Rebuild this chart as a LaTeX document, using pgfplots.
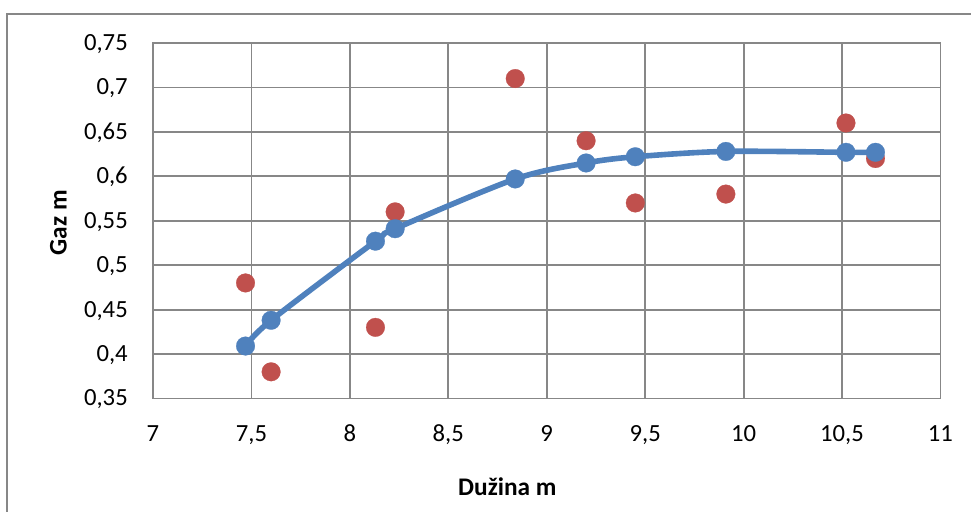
\documentclass[border=0pt]{standalone}
\usepackage{pgfplots}
\pgfplotsset{compat=1.18}
\usepackage{fontspec}
\setmainfont{Carlito}
\definecolor{exred}{HTML}{C0504D}
\definecolor{exblue}{HTML}{4F81BD}
\definecolor{exgrid}{HTML}{878787}

\begin{document}
\begin{tikzpicture}
  \useasboundingbox (0,0) rectangle (728.25pt,383.25pt);
  \draw[exgrid, line width=1.2pt] (5.25pt,-5pt) -- (5.25pt,372.75pt) -- (740pt,372.75pt);
  \begin{axis}[
      at={(114.75pt,84.4pt)}, anchor=south west,
      scale only axis,
      width=590.6pt, height=266.6pt,
      xmin=7, xmax=11,
      ymin=0.35, ymax=0.75,
      xtick={7,7.5,8,8.5,9,9.5,10,10.5,11},
      ytick={0.35,0.4,0.45,0.5,0.55,0.6,0.65,0.7,0.75},
      /pgf/number format/use comma,
      /pgf/number format/assume math mode=true,
      grid=major,
      grid style={exgrid, line width=1.35pt},
      axis line style={exgrid, line width=1.35pt},
      major tick length=0pt,
      tick label style={font=\fontsize{18.5}{20}\selectfont, inner sep=0pt},
      xticklabel style={anchor=base, yshift=-32.6pt},
      yticklabel style={anchor=base east, xshift=-18.75pt, yshift=-5.6pt},
      xlabel={Dužina m},
      ylabel={Gaz m},
      label style={font=\bfseries\fontsize{19}{21}\selectfont, inner sep=0pt},
      xlabel style={at={(axis description cs:0.45,0)}, anchor=base, yshift=-72.4pt},
      ylabel style={at={(axis description cs:0,0.494)}, anchor=base, yshift=64.7pt},
  ]
  % measured points
  \addplot[only marks, color=exred, mark=*, mark size=7pt, mark options={fill=exred, draw=exred, line width=0.2pt}]
    coordinates {
      (7.47,0.48)
      (7.60,0.38)
      (8.13,0.43)
      (8.23,0.56)
      (8.84,0.71)
      (9.20,0.64)
      (9.45,0.57)
      (9.91,0.58)
      (10.52,0.66)
      (10.67,0.62)
    };
  % fitted values
  \addplot[smooth, color=exblue, line width=4.2pt, mark=*, mark size=7pt, mark options={fill=exblue, draw=exblue, line width=0.2pt}]
    coordinates {
      (7.47,0.409)
      (7.60,0.438)
      (8.13,0.527)
      (8.23,0.541)
      (8.84,0.597)
      (9.20,0.615)
      (9.45,0.622)
      (9.91,0.628)
      (10.52,0.627)
      (10.67,0.627)
    };
  \end{axis}
\end{tikzpicture}
\end{document}
